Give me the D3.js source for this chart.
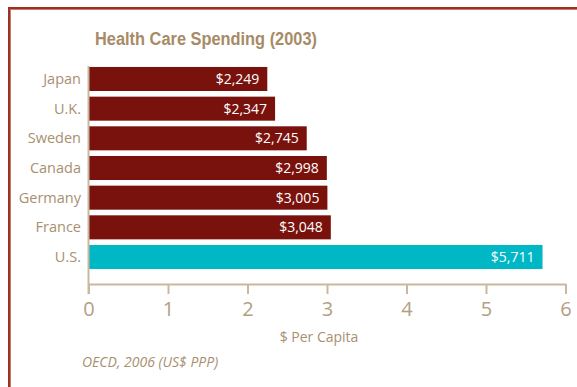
<!DOCTYPE html>
<meta charset="utf-8">
<title>Health Care Spending (2003)</title>
<style>
  body { margin: 0; background: #fff; }
  svg { display: block; }
</style>
<body>
  <div id="container"></div>
  <script src="https://cdn.jsdelivr.net/npm/d3@7"></script>
  <script>
    const width = 577;
    const height = 387;

    // data
    const countries = ["Japan", "U.K.", "Sweden", "Canada", "Germany", "France", "U.S."];
    const spending = [2249, 2347, 2745, 2998, 3005, 3048, 5711];
    const xTicks = [0, 1, 2, 3, 4, 5, 6];

    const tan = "#a89070";
    const axisColor = "#c9b89e";

    const svg = d3.select("#container")
      .append("svg")
      .attr("width", width)
      .attr("height", height);

    // frame
    svg.append("rect").attr("x", 8).attr("y", 7).attr("width", width).attr("height", 2).attr("fill", "#9a3324");
    svg.append("rect").attr("x", 8).attr("y", 9).attr("width", width).attr("height", 1).attr("fill", "#c87a6e");
    svg.append("rect").attr("x", 8).attr("y", 7).attr("width", 2).attr("height", height).attr("fill", "#9a3324");
    svg.append("rect").attr("x", 10).attr("y", 10).attr("width", 1).attr("height", height).attr("fill", "#c87a6e");

    svg.append("text")
      .attr("x", 95).attr("y", 45)
      .attr("font-family", "'Liberation Sans', sans-serif")
      .attr("font-weight", "bold")
      .attr("font-size", 18)
      .attr("textLength", 222)
      .attr("lengthAdjust", "spacingAndGlyphs")
      .attr("fill", "#a78b67")
      .text("Health Care Spending (2003)");

    const x = d3.scaleLinear().domain([0, 6]).range([88.5, 565.5]);
    const y = d3.scaleBand().domain(countries).range([64, 272]).paddingInner(0.19).paddingOuter(0.1);

    const g = svg.append("g").attr("font-family", "'Open Sans', sans-serif");

    // bars
    g.selectAll("rect.bar")
      .data(countries)
      .join("rect")
      .attr("class", "bar")
      .attr("x", x(0))
      .attr("y", d => y(d))
      .attr("width", (d, i) => x(spending[i] / 1000) - x(0))
      .attr("height", y.bandwidth())
      .attr("fill", d => d === "U.S." ? "#00b7c6" : "#79120c");

    // value labels
    g.selectAll("text.val")
      .data(countries)
      .join("text")
      .attr("class", "val")
      .attr("x", (d, i) => x(spending[i] / 1000) - 8)
      .attr("y", d => y(d) + y.bandwidth() / 2)
      .attr("dy", "0.35em")
      .attr("text-anchor", "end")
      .attr("font-size", 14)
      .attr("fill", "#fff")
      .text((d, i) => "$" + d3.format(",")(spending[i]));

    // category labels
    g.selectAll("text.cat")
      .data(countries)
      .join("text")
      .attr("class", "cat")
      .attr("x", 81)
      .attr("y", d => y(d) + y.bandwidth() / 2)
      .attr("dy", "0.35em")
      .attr("text-anchor", "end")
      .attr("font-size", 14.5)
      .attr("fill", tan)
      .text(d => d);

    // y axis line
    g.append("line")
      .attr("x1", x(0)).attr("x2", x(0))
      .attr("y1", 66).attr("y2", 294)
      .attr("stroke", axisColor).attr("stroke-width", 2);

    // x axis
    const xAxis = g.append("g")
      .attr("transform", "translate(0,284)")
      .call(d3.axisBottom(x).tickValues(xTicks).tickFormat(d3.format("d"))
        .tickSize(10).tickSizeOuter(0).tickPadding(8));
    xAxis.select(".domain").attr("stroke", axisColor).attr("stroke-width", 2);
    xAxis.selectAll(".tick line").attr("stroke", axisColor).attr("stroke-width", 2);
    xAxis.selectAll(".tick text")
      .attr("font-family", "'Open Sans', sans-serif")
      .attr("font-size", 20)
      .attr("fill", "#b39e84");

    g.append("text")
      .attr("x", 319).attr("y", 342)
      .attr("text-anchor", "middle")
      .attr("font-size", 14)
      .attr("fill", tan)
      .text("$ Per Capita");

    g.append("text")
      .attr("x", 82).attr("y", 367)
      .attr("font-size", 14)
      .attr("font-style", "italic")
      .attr("fill", tan)
      .text("OECD, 2006 (US$ PPP)");
  </script>
</body>
